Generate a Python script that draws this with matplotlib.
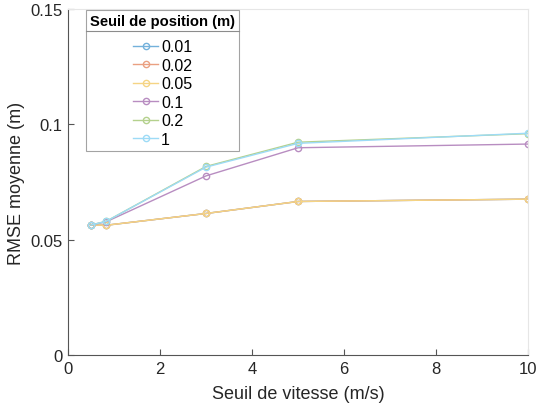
import matplotlib
matplotlib.use("Agg")
import matplotlib.pyplot as plt
from matplotlib.lines import Line2D
from matplotlib.colors import to_rgb

plt.rcParams["font.family"] = ["Liberation Sans", "DejaVu Sans"]

# ── data ─────────────────────────────────────────────────────────────────────
speed_thr = [0.5, 0.83, 3, 5, 10]
pos_labels = ["0.01", "0.02", "0.05", "0.1", "0.2", "1"]
rmse_001 = [0.0564, 0.0563, 0.0614, 0.0666, 0.0676]
rmse_002 = [0.0564, 0.0563, 0.0614, 0.0666, 0.0676]
rmse_005 = [0.0564, 0.0563, 0.0614, 0.0666, 0.0676]
rmse_01 = [0.0564, 0.0578, 0.0777, 0.0899, 0.0915]
rmse_02 = [0.0564, 0.0580, 0.0818, 0.0923, 0.0960]
rmse_1 = [0.0564, 0.0580, 0.0815, 0.0918, 0.0962]
series = [rmse_001, rmse_002, rmse_005, rmse_01, rmse_02, rmse_1]

base_colors = ["#0072BD", "#D95319", "#EDB120", "#7E2F8E", "#77AC30", "#4DBEEE"]


def faded(c, a=0.55):
    r, g, b = to_rgb(c)
    return (a * r + 1 - a, a * g + 1 - a, a * b + 1 - a)


colors = [faded(c) for c in base_colors]

fig = plt.figure(figsize=(5.4, 4.06), dpi=100)
ax = fig.add_axes([0.126, 0.123, 0.852, 0.852])

for ys, lab, c in zip(series, pos_labels, colors):
    ax.plot(speed_thr, ys, color=c, lw=1.0, marker="o",
            markersize=4.5, markerfacecolor="none", label=lab)

ax.set_xlim(0, 10)
ax.set_ylim(0, 0.15)
ax.set_xticks([0, 2, 4, 6, 8, 10])
ax.set_yticks([0, 0.05, 0.1, 0.15])
ax.set_yticklabels(["0", "0.05", "0.1", "0.15"])
ax.tick_params(direction="in", length=4, labelsize=12, colors="#262626",
               pad=4)
ax.tick_params(axis="both", color="#555555")
ax.set_xlabel("Seuil de vitesse (m/s)", fontsize=13, color="#262626", labelpad=7)
ax.set_ylabel("RMSE moyenne (m)", fontsize=13, color="#262626", labelpad=4)
for s in ["left", "bottom"]:
    ax.spines[s].set_color("#555555")
    ax.spines[s].set_linewidth(0.8)
for s in ["top", "right"]:
    ax.spines[s].set_color("#e6e6e6")
    ax.spines[s].set_linewidth(0.8)

leg = ax.legend(loc="upper left", bbox_to_anchor=(0.039, 0.997),
                title="Seuil de position (m)", fontsize=11.5,
                title_fontproperties={"weight": "bold", "size": 10.6},
                frameon=True, fancybox=False, edgecolor="#8c8c8c",
                handlelength=1.6, handletextpad=0.15, labelspacing=0.22,
                borderpad=0.25, borderaxespad=0)
leg.get_frame().set_linewidth(0.8)
leg._legend_box.align = "center"
leg._legend_box.sep = 8

fig.canvas.draw()
bb = leg.get_window_extent().transformed(fig.transFigure.inverted())
tb = leg.get_title().get_window_extent().transformed(fig.transFigure.inverted())
ysep = tb.y0 - 0.008
fig.add_artist(Line2D([bb.x0, bb.x1], [ysep, ysep], color="#8c8c8c",
                      lw=0.8, transform=fig.transFigure))

fig.savefig("out.png", dpi=100)
